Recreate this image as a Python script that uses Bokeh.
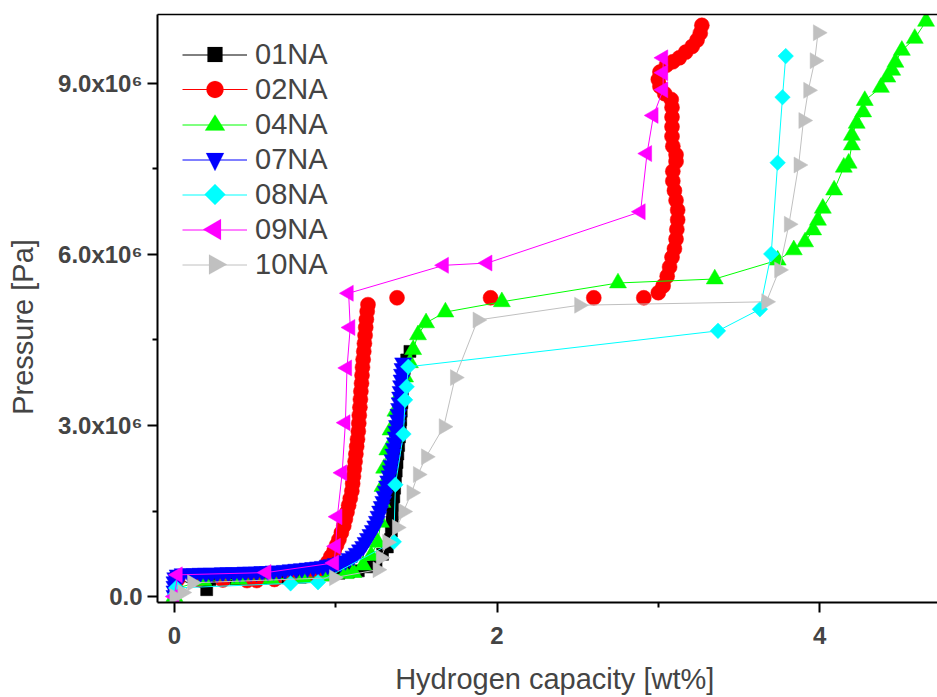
import numpy as np
from bokeh.plotting import figure
from bokeh.models import (Range1d, FixedTicker, LinearAxis, Legend, LegendItem,
                          CustomJSTickFormatter, ColumnDataSource, PolyAnnotation)
from bokeh.embed import file_html
from bokeh.resources import INLINE

# ---- data (x: hydrogen capacity wt%, y: pressure in MPa -> converted to Pa) ----
na01_x = [0.0, 0.01, 0.20, 0.22, 0.30, 0.38, 0.46, 0.54, 0.62, 0.70, 0.78, 0.86, 0.94, 1.02, 1.08,
          1.14, 1.20, 1.25, 1.29, 1.32, 1.34, 1.345, 1.35, 1.352, 1.355, 1.36, 1.365, 1.37, 1.375,
          1.38, 1.385, 1.39, 1.395, 1.40, 1.403, 1.406, 1.41, 1.413, 1.416, 1.42, 1.425, 1.44, 1.46]
na01_y = [0.05, 0.32, 0.12, 0.30, 0.31, 0.31, 0.31, 0.32, 0.32, 0.33, 0.34, 0.36, 0.38, 0.41, 0.43,
          0.45, 0.52, 0.62, 0.74, 0.87, 1.00, 1.15, 1.30, 1.45, 1.60, 1.75, 1.90, 2.05, 2.20,
          2.35, 2.50, 2.65, 2.80, 2.95, 3.10, 3.25, 3.40, 3.55, 3.70, 3.85, 4.00, 4.15, 4.30]

na02_x = [0.02, 0.15, 0.30, 0.45, 0.51, 0.62, 0.72, 0.82, 0.88,
          0.92, 0.95, 0.97, 0.99, 1.005, 1.02, 1.035, 1.05, 1.06, 1.07, 1.08, 1.09, 1.10, 1.105,
          1.11, 1.115, 1.12, 1.125, 1.13, 1.135, 1.14, 1.143, 1.146, 1.15, 1.153, 1.156, 1.16,
          1.163, 1.166, 1.17, 1.174, 1.178, 1.182, 1.186, 1.19, 1.195, 1.20,
          1.38, 1.96, 2.60, 2.91,
          3.00, 3.03, 3.055, 3.07, 3.085, 3.10, 3.11, 3.115, 3.12, 3.12, 3.11, 3.10, 3.09, 3.09, 3.11,
          3.11, 3.09, 3.085, 3.085, 3.085, 3.085, 3.08, 3.04, 3.01, 3.00, 3.01, 3.05, 3.09, 3.13,
          3.17, 3.21, 3.24, 3.26, 3.27]
na02_y = [0.30, 0.30, 0.29, 0.28, 0.28, 0.30, 0.33, 0.37, 0.42,
          0.50, 0.60, 0.70, 0.80, 0.90, 1.00, 1.12, 1.24, 1.36, 1.48, 1.60, 1.72, 1.85, 1.98,
          2.11, 2.24, 2.37, 2.50, 2.63, 2.76, 2.90, 3.04, 3.18, 3.32, 3.46, 3.60, 3.74,
          3.88, 4.02, 4.16, 4.30, 4.44, 4.58, 4.72, 4.86, 5.00, 5.12,
          5.24, 5.24, 5.24, 5.24,
          5.33, 5.45, 5.62, 5.78, 5.95, 6.10, 6.27, 6.44, 6.61, 6.78, 6.95, 7.12, 7.29, 7.46, 7.63,
          7.75, 7.90, 8.07, 8.24, 8.41, 8.58, 8.72, 8.82, 8.95, 9.07, 9.20, 9.32, 9.38, 9.45,
          9.55, 9.65, 9.76, 9.88, 10.02]

na04_x = [0.0, 0.02, 0.18, 0.40, 0.60, 0.80, 0.95, 1.06, 1.11, 1.17, 1.22, 1.26, 1.28, 1.29, 1.29,
          1.30, 1.32, 1.34, 1.37, 1.40, 1.43, 1.46, 1.48, 1.51, 1.56, 1.68, 2.03, 2.75, 3.35, 3.74,
          3.84, 3.91, 3.96, 3.99, 4.02, 4.09, 4.15, 4.18, 4.20, 4.20, 4.23, 4.27, 4.28, 4.38, 4.42,
          4.45, 4.47, 4.51, 4.59, 4.66]
na04_y = [0.0, 0.15, 0.28, 0.30, 0.31, 0.33, 0.36, 0.40, 0.42, 0.55, 0.72, 0.95, 1.30, 1.65, 1.93,
          2.25, 2.57, 2.92, 3.25, 3.55, 3.85, 4.10, 4.33, 4.59, 4.80, 4.99, 5.17, 5.50, 5.57, 5.90,
          6.08, 6.22, 6.43, 6.60, 6.81, 7.13, 7.53, 7.60, 7.92, 8.09, 8.30, 8.50, 8.70, 8.93, 9.11,
          9.23, 9.37, 9.58, 9.79, 10.09]

na07_x = [0.0, 0.0, 0.0, 0.0, 0.005, 0.02, 0.05,
          0.09, 0.125, 0.16, 0.195, 0.23, 0.265, 0.30, 0.335, 0.37, 0.405, 0.44, 0.475, 0.51, 0.545,
          0.58, 0.615, 0.65, 0.685, 0.72, 0.755, 0.79, 0.825, 0.86, 0.89, 0.92, 0.95, 0.975,
          1.00, 1.03, 1.06, 1.085, 1.11, 1.13, 1.15, 1.17, 1.185, 1.20, 1.215, 1.23, 1.245, 1.255,
          1.265, 1.275, 1.285, 1.295, 1.303, 1.311, 1.318, 1.325, 1.333, 1.34, 1.346, 1.352, 1.357,
          1.362, 1.367, 1.372, 1.376, 1.38, 1.385, 1.389, 1.393, 1.396, 1.399, 1.402, 1.405,
          1.408, 1.411, 1.414, 1.418]
na07_y = [0.02, 0.10, 0.18, 0.26, 0.33, 0.38, 0.40,
          0.40, 0.40, 0.41, 0.41, 0.41, 0.41, 0.42, 0.42, 0.42, 0.42, 0.43, 0.43, 0.43, 0.44,
          0.44, 0.45, 0.45, 0.46, 0.47, 0.48, 0.49, 0.50, 0.51, 0.52, 0.53, 0.55, 0.56,
          0.58, 0.60, 0.63, 0.67, 0.71, 0.76, 0.82, 0.88, 0.95, 1.02, 1.09, 1.16, 1.24, 1.32,
          1.41, 1.50, 1.58, 1.67, 1.76, 1.85, 1.94, 2.03, 2.12, 2.21, 2.30, 2.40, 2.50,
          2.60, 2.70, 2.80, 2.90, 3.00, 3.10, 3.20, 3.30, 3.40, 3.50, 3.60, 3.70,
          3.80, 3.90, 4.00, 4.10]

na08_x = [0.0, 0.01, 0.72, 0.89, 1.36, 1.37, 1.42, 1.43, 1.44, 1.45, 3.37, 3.63, 3.70, 3.74, 3.77, 3.79]
na08_y = [0.02, 0.15, 0.23, 0.25, 0.96, 1.96, 2.85, 3.45, 3.68, 4.03, 4.66, 5.04, 6.01, 7.61, 8.76, 9.48]

na09_x = [0.0, 0.02, 0.57, 0.99, 1.00, 1.01, 1.04, 1.06, 1.07, 1.09, 1.08, 1.67, 1.94, 2.89, 2.93,
          2.97, 3.03, 3.03, 3.03]
na09_y = [0.0, 0.38, 0.42, 0.59, 0.88, 1.40, 2.17, 3.05, 4.01, 4.72, 5.32, 5.81, 5.85, 6.75, 7.77,
          8.44, 8.89, 9.19, 9.45]

na10_x = [0.0, 0.05, 0.11, 0.99, 1.26, 1.28, 1.32, 1.38, 1.42, 1.47, 1.51, 1.56, 1.67, 1.74, 1.88,
          2.51, 3.67, 3.75, 3.81, 3.87, 3.90, 3.93, 3.97, 3.99]
na10_y = [0.0, 0.07, 0.24, 0.33, 0.47, 0.68, 0.95, 1.21, 1.49, 1.82, 2.14, 2.45, 2.98, 3.84, 4.85,
          5.11, 5.17, 5.73, 6.53, 7.57, 8.35, 8.88, 9.40, 9.89]

labels = ["01NA", "02NA", "04NA", "07NA", "08NA", "09NA", "10NA"]
colors = ["#000000", "#FF0000", "#00FF00", "#0000FF", "#00FFFF", "#FF00FF", "#C0C0C0"]

x_ticks = [0, 2, 4]
x_minor = [1, 3]
y_ticks = [0, 3e6, 6e6, 9e6]
y_minor = [1.5e6, 4.5e6, 7.5e6]

x_title = "Hydrogen capacity [wt%]"
y_title = "Pressure [Pa]"

FONT = "Liberation Sans"

# frame geometry (pixels)
LEFT, TOP, BOTTOM = 157, 14, 94
FRAME_H = 697 - TOP - BOTTOM

p = figure(width=937, height=697, output_backend="svg", toolbar_location=None,
           x_range=Range1d(-0.105, 4.731), y_range=Range1d(-0.105e6, 10.21e6),
           min_border_left=LEFT, min_border_right=0, min_border_top=TOP, min_border_bottom=BOTTOM)
p.grid.visible = False
p.outline_line_color = None
p.background_fill_color = "white"
p.border_fill_color = "white"

# marker styles per series: (marker, size, angle)
styles = [("square", 12, 0.0), ("circle", 15, 0.0), ("triangle", 17, 0.0),
          ("inverted_triangle", 17, 0.0), ("square", 11, np.pi / 4),
          ("triangle", 16, np.pi / 2), ("triangle", 16, -np.pi / 2)]
data = [(na01_x, na01_y), (na02_x, na02_y), (na04_x, na04_y), (na07_x, na07_y),
        (na08_x, na08_y), (na09_x, na09_y), (na10_x, na10_y)]

items = []
for (xs, ys), lab, col, (mk, sz, ang) in zip(data, labels, colors, styles):
    src = ColumnDataSource(dict(x=list(xs), y=list(np.array(ys) * 1e6)))
    sr = p.scatter("x", "y", source=src, marker=mk, size=sz, angle=ang,
                   fill_color=col, line_color=col, line_width=0.5)
    if lab == "02NA":
        # the 02NA points are not joined in the figure
        items.append(LegendItem(label=lab, renderers=[sr]))
    else:
        lr = p.line("x", "y", source=src, line_color=col, line_width=1)
        sr.level = "glyph"
        # keep markers above their own line
        p.renderers.remove(sr)
        p.renderers.append(sr)
        items.append(LegendItem(label=lab, renderers=[lr]))

# legend layout (lines + labels by the Legend, symbols drawn on top)
LEG_X = 25          # glyph start from frame left
ROW0 = 41           # first row centre below frame top
ITEM_H = 35
GLYPH_W = 65
n = len(items)
leg_h = n * ITEM_H
leg_top_up = FRAME_H - (ROW0 - ITEM_H / 2)
legend = Legend(items=items, location=(LEG_X, leg_top_up - leg_h), padding=0, margin=0,
                border_line_color=None, background_fill_alpha=0,
                label_text_font=FONT, label_text_font_size="29px",
                glyph_width=GLYPH_W, glyph_height=ITEM_H, label_height=ITEM_H, spacing=0,
                label_standoff=8)
p.add_layout(legend)

cx = LEG_X + GLYPH_W / 2
for i, col in enumerate(colors):
    cy = FRAME_H - ROW0 - i * ITEM_H
    if i == 0:      # square
        xs = [cx - 7.5, cx + 7.5, cx + 7.5, cx - 7.5]
        ys = [cy - 7.5, cy - 7.5, cy + 7.5, cy + 7.5]
    elif i == 1:    # circle, with its legend line
        p.add_layout(PolyAnnotation(xs=[cx - GLYPH_W / 2, cx + GLYPH_W / 2, cx + GLYPH_W / 2, cx - GLYPH_W / 2],
                                    ys=[cy - 0.5, cy - 0.5, cy + 0.5, cy + 0.5],
                                    xs_units="screen", ys_units="screen",
                                    fill_color=col, fill_alpha=1.0, line_color=None))
        t = np.linspace(0, 2 * np.pi, 33)[:-1]
        xs = list(cx + 8.5 * np.cos(t))
        ys = list(cy + 8.5 * np.sin(t))
    elif i == 2:    # up triangle
        xs = [cx - 10, cx + 10, cx]
        ys = [cy - 6, cy - 6, cy + 10]
    elif i == 3:    # down triangle
        xs = [cx - 9, cx + 9, cx]
        ys = [cy + 6.5, cy + 6.5, cy - 11.5]
    elif i == 4:    # diamond
        xs = [cx - 10.5, cx, cx + 10.5, cx]
        ys = [cy, cy + 10.5, cy, cy - 10.5]
    elif i == 5:    # left triangle
        xs = [cx - 12, cx + 6, cx + 6]
        ys = [cy, cy + 10.5, cy - 10.5]
    else:           # right triangle
        xs = [cx + 12, cx - 6, cx - 6]
        ys = [cy, cy + 10, cy - 10]
    p.add_layout(PolyAnnotation(xs=list(xs), ys=list(ys), xs_units="screen", ys_units="screen",
                                fill_color=col, fill_alpha=1.0, line_color=col, line_width=0.5))

# axes
for ax in (p.xaxis[0], p.yaxis[0]):
    ax.axis_line_width = 2
    ax.major_tick_line_width = 2
    ax.minor_tick_line_width = 2
    ax.major_tick_in = 0
    ax.major_tick_out = 10
    ax.minor_tick_in = 0
    ax.minor_tick_out = 5
    ax.major_label_text_font = FONT
    ax.major_label_text_font_style = "bold"
    ax.major_label_text_font_size = "24px"
    ax.axis_label_text_font = FONT
    ax.axis_label_text_font_style = "normal"
    ax.axis_label_text_font_size = "29px"

p.xaxis[0].ticker = FixedTicker(ticks=x_ticks, minor_ticks=x_minor)
p.yaxis[0].ticker = FixedTicker(ticks=y_ticks, minor_ticks=y_minor)
# titles are centred on the frame; the original sits a little off-centre,
# so non-collapsing spaces are used to shift them
p.xaxis[0].axis_label = "\u2002" + x_title
p.yaxis[0].axis_label = y_title + "\u2002\u2002\u00a0"
p.xaxis[0].major_label_standoff = 14
p.xaxis[0].axis_label_standoff = 16
p.yaxis[0].major_label_standoff = 5
p.yaxis[0].axis_label_standoff = 16
p.yaxis[0].formatter = CustomJSTickFormatter(
    code="if (Math.abs(tick) < 1) { return '0.0'; } return (tick / 1e6).toFixed(1) + 'x10\u2076';")

# top frame line
top = LinearAxis(ticker=FixedTicker(ticks=[]), axis_line_width=1.5,
                 major_label_text_font_size="0px", major_label_standoff=0,
                 axis_label_standoff=0, major_tick_out=0, minor_tick_out=0)
p.add_layout(top, "above")

open("out.html", "w").write(file_html(p, INLINE))
